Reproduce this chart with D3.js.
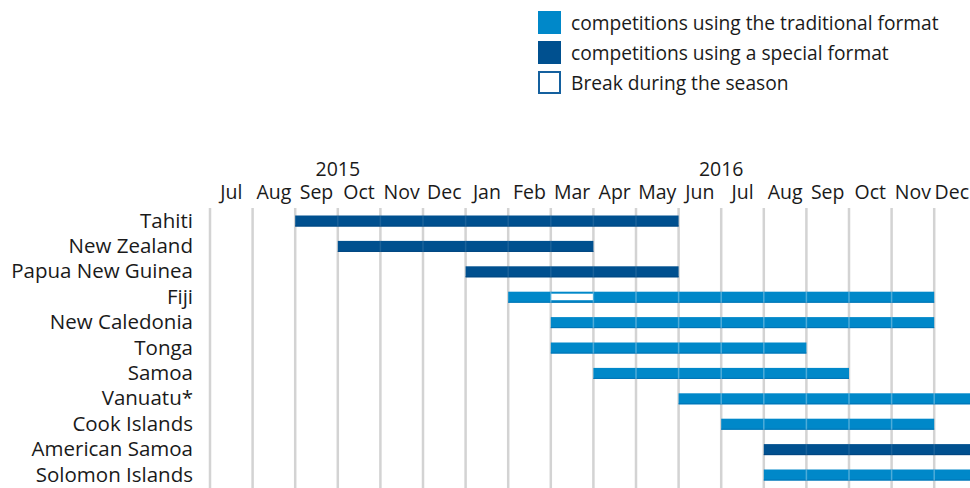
<!DOCTYPE html>
<html>
<head>
<meta charset="utf-8">
<script src="https://cdn.jsdelivr.net/npm/d3@7/dist/d3.min.js"></script>
<style>
  html, body { margin: 0; padding: 0; background: #fff; }
  svg { display: block; }
  text { font-family: "Open Sans", sans-serif; fill: #1a1a1a; }
</style>
</head>
<body>
<svg id="chart" width="970" height="488"></svg>
<script>
// Season calendar, July 2015 – December 2016
const months = ["Jul", "Aug", "Sep", "Oct", "Nov", "Dec", "Jan", "Feb", "Mar", "Apr", "May", "Jun", "Jul", "Aug", "Sep", "Oct", "Nov", "Dec"];
const years = [{ label: "2015", at: "2015-10" }, { label: "2016", at: "2016-07" }];

const countries = ["Tahiti", "New Zealand", "Papua New Guinea", "Fiji", "New Caledonia", "Tonga", "Samoa", "Vanuatu*", "Cook Islands", "American Samoa", "Solomon Islands"];
// first and last month of each competition (inclusive)
const seasonStart = ["2015-09", "2015-10", "2016-01", "2016-02", "2016-03", "2016-03", "2016-04", "2016-06", "2016-07", "2016-08", "2016-08"];
const seasonEnd   = ["2016-05", "2016-03", "2016-05", "2016-11", "2016-11", "2016-08", "2016-09", "2016-12", "2016-11", "2016-12", "2016-12"];
const formats     = ["special", "special", "special", "traditional", "traditional", "traditional", "traditional", "traditional", "traditional", "special", "traditional"];
// mid-season breaks
const breakCountry = ["Fiji"];
const breakStart = ["2016-03"];
const breakEnd = ["2016-03"];

const legendLabels = ["competitions using the traditional format", "competitions using a special format", "Break during the season"];

const colors = { traditional: "#0088c9", special: "#00508f" };
const edge = { traditional: "#0073b4", special: "#004680" };

// month index counted from July 2015
const monthIndex = s => {
  const [y, m] = s.split("-").map(Number);
  return (y - 2015) * 12 + (m - 7);
};

const W = 970;
const svg = d3.select("#chart");

const x = d3.scaleLinear().domain([0, 18]).range([210, 976.8]);
const y = d3.scalePoint().domain(countries).range([221, 475]);
const barH = 11;

// vertical month gridlines
svg.append("g").selectAll("line")
  .data(d3.range(0, 18))
  .join("line")
  .attr("x1", d => x(d)).attr("x2", d => x(d))
  .attr("y1", 208).attr("y2", 488)
  .attr("stroke", "#d3d3d3").attr("stroke-width", 2.5);

// month labels, centred in their month; the last one is kept inside the frame
svg.append("g").selectAll("text")
  .data(months)
  .join("text")
  .attr("x", (d, i) => x(i + 0.5))
  .attr("y", 199)
  .attr("text-anchor", "middle")
  .attr("font-size", 19.5)
  .text(d => d)
  .each(function () {
    const w = this.getComputedTextLength();
    const cx = +this.getAttribute("x");
    if (cx + w / 2 > W - 1) this.setAttribute("x", W - 1 - w / 2);
  });

// year labels
svg.append("g").selectAll("text")
  .data(years)
  .join("text")
  .attr("x", d => x(monthIndex(d.at)))
  .attr("y", 176)
  .attr("text-anchor", "middle")
  .attr("font-size", 19.5)
  .text(d => d.label);

// country labels
svg.append("g").selectAll("text")
  .data(countries)
  .join("text")
  .attr("x", 193)
  .attr("y", d => y(d) + 6.5)
  .attr("text-anchor", "end")
  .attr("font-size", 20.5)
  .text(d => d);

// season bars
const seasons = countries.map((c, i) => ({
  country: c, s: monthIndex(seasonStart[i]), e: monthIndex(seasonEnd[i]) + 1, fmt: formats[i]
}));

const bars = svg.append("g");
bars.selectAll("rect.bar")
  .data(seasons)
  .join("rect")
  .attr("class", "bar")
  .attr("x", d => x(d.s))
  .attr("y", d => y(d.country) - barH / 2)
  .attr("width", d => x(d.e) - x(d.s))
  .attr("height", barH)
  .attr("fill", d => colors[d.fmt]);

// darker lower edge of each bar
bars.selectAll("line.edge")
  .data(seasons)
  .join("line")
  .attr("class", "edge")
  .attr("x1", d => x(d.s)).attr("x2", d => x(d.e))
  .attr("y1", d => y(d.country) + barH / 2 - 0.5)
  .attr("y2", d => y(d.country) + barH / 2 - 0.5)
  .attr("stroke", d => edge[d.fmt]).attr("stroke-width", 1);

// faint month joints across the bars
const joints = [];
seasons.forEach(d => {
  for (let m = d.s + 1; m < d.e; m++) joints.push({ country: d.country, m, fmt: d.fmt });
});
bars.selectAll("line.joint")
  .data(joints)
  .join("line")
  .attr("class", "joint")
  .attr("x1", d => x(d.m)).attr("x2", d => x(d.m))
  .attr("y1", d => y(d.country) - barH / 2)
  .attr("y2", d => y(d.country) + barH / 2)
  .attr("stroke", "#ffffff")
  .attr("stroke-opacity", d => d.fmt === "traditional" ? 0.3 : 0.1)
  .attr("stroke-width", 1.5);

// season breaks
const breaks = breakCountry.map((c, i) => ({ country: c, s: monthIndex(breakStart[i]), e: monthIndex(breakEnd[i]) + 1 }));
bars.selectAll("rect.break")
  .data(breaks)
  .join("rect")
  .attr("class", "break")
  .attr("x", d => x(d.s) + 0.5)
  .attr("y", d => y(d.country) - barH / 2 + 2)
  .attr("width", d => x(d.e) - x(d.s) - 1)
  .attr("height", barH - 4.5)
  .attr("fill", "#ffffff");

// legend
const legend = svg.append("g").attr("transform", "translate(538,11)");
const leg = legend.selectAll("g")
  .data(legendLabels)
  .join("g")
  .attr("transform", (d, i) => `translate(0,${i * 30})`);
leg.append("rect")
  .attr("x", (d, i) => i === 2 ? 1 : 0)
  .attr("y", (d, i) => i === 2 ? 1 : 0)
  .attr("width", (d, i) => i === 2 ? 21 : 23)
  .attr("height", (d, i) => i === 2 ? 21 : 23)
  .attr("fill", (d, i) => i === 0 ? colors.traditional : i === 1 ? colors.special : "#ffffff")
  .attr("stroke", (d, i) => i === 2 ? "#14609e" : "none")
  .attr("stroke-width", 2);
leg.append("text")
  .attr("x", 33)
  .attr("y", 19)
  .attr("font-size", 19.2)
  .text(d => d);
</script>
</body>
</html>
